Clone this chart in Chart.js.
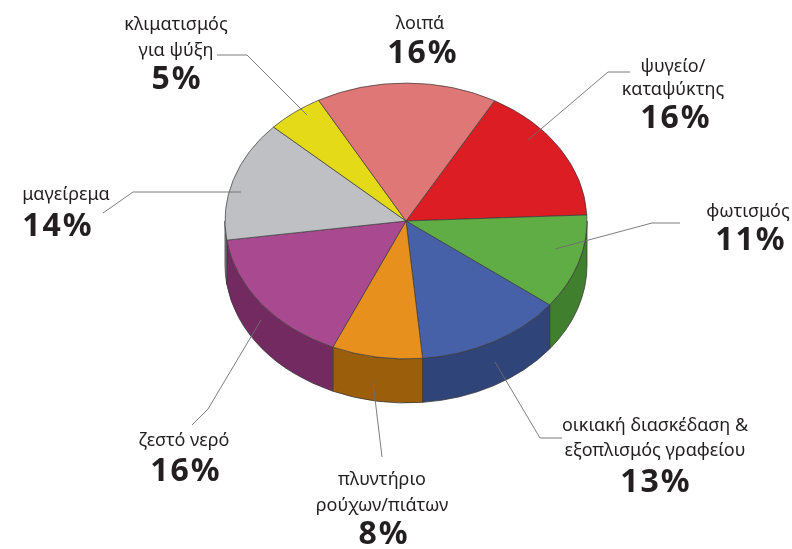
<!DOCTYPE html>
<html>
<head>
<meta charset="utf-8">
<script src="https://cdn.jsdelivr.net/npm/chart.js@4.4.1/dist/chart.umd.min.js"></script>
<style>
  html, body { margin: 0; padding: 0; background: #fff; }
  #wrap { width: 792px; height: 549px; position: relative; }
</style>
</head>
<body>
<div id="wrap"><canvas id="pie"></canvas></div>
<script>
// data, clockwise from the fridge slice
const categories = [
  ['ψυγείο/', 'καταψύκτης'],
  ['φωτισμός'],
  ['οικιακή διασκέδαση &', 'εξοπλισμός γραφείου'],
  ['πλυντήριο', 'ρούχων/πιάτων'],
  ['ζεστό νερό'],
  ['μαγείρεμα'],
  ['κλιματισμός', 'για ψύξη'],
  ['λοιπά']
];
const shares = [16, 11, 13, 8, 16, 14, 5, 16];

const topColors  = ['#dc1d23', '#60ad45', '#4661a7', '#e8901e', '#a94a90', '#bfc0c3', '#e4da17', '#e07777'];
const sideColors = ['#9a1216', '#3f7f2d', '#2f4479', '#9b5e0b', '#722a60', '#8b8c8f', '#a29a10', '#a35454'];

// label layout: text x, line centres, percentage x/y
const labelPos = [
  { x: 673, ys: [67, 90],   px: 675, py: 119 },
  { x: 748, ys: [212],      px: 750, py: 241 },
  { x: 655, ys: [426, 451], px: 655, py: 483 },
  { x: 382, ys: [480, 506], px: 383, py: 535 },
  { x: 184, ys: [441],      px: 185, py: 472 },
  { x: 66,  ys: [195],      px: 57,  py: 227 },
  { x: 176, ys: [25, 51],   px: 176, py: 80 },
  { x: 420, ys: [24],       px: 422, py: 54 }
];
const leaders = [
  [[630, 72], [608, 72], [528, 140]],
  [[680, 223], [652, 223], [555, 249]],
  [[562, 438], [540, 438], [495, 362]],
  [[382, 457], [373, 382]],
  [[192, 425], [208, 409], [261, 320]],
  [[103, 213], [133, 192], [241, 192]],
  [[217, 55], [247, 55], [307, 115]],
  []
];

const TILT = 0.762;   // vertical squash of the top face
const DEPTH = 44;     // thickness of the disc
const TEXT = '#231f20';

function sideRanges(s, e) {
  // parts of [s,e] that face the viewer (screen angles 0..PI)
  const out = [];
  for (const base of [-2 * Math.PI, 0, 2 * Math.PI]) {
    const a = Math.max(s, base), b = Math.min(e, base + Math.PI);
    if (b > a) out.push([a, b]);
  }
  return out;
}

const pie3d = {
  id: 'pie3d',
  beforeDatasetsDraw(chart) {
    const ctx = chart.ctx;
    const arcs = chart.getDatasetMeta(0).data;
    ctx.save();
    arcs.forEach((arc, i) => {
      const p = arc.getProps(['x', 'y', 'startAngle', 'endAngle', 'outerRadius']);
      const rx = p.outerRadius, ry = p.outerRadius * TILT;
      sideRanges(p.startAngle, p.endAngle).forEach(([a, b]) => {
        ctx.beginPath();
        ctx.ellipse(p.x, p.y, rx, ry, 0, a, b);
        ctx.lineTo(p.x + rx * Math.cos(b), p.y + ry * Math.sin(b) + DEPTH);
        ctx.ellipse(p.x, p.y + DEPTH, rx, ry, 0, b, a, true);
        ctx.closePath();
        ctx.fillStyle = sideColors[i];
        ctx.fill();
        ctx.lineWidth = 0.8;
        ctx.strokeStyle = '#3a3a3a';
        ctx.stroke();
      });
    });
    // squash the flat pie into an ellipse around its centre
    const c = arcs[0];
    ctx.translate(c.x, c.y);
    ctx.scale(1, TILT);
    ctx.translate(-c.x, -c.y);
  },
  afterDatasetsDraw(chart) {
    chart.ctx.restore();
  },
  afterDraw(chart) {
    const ctx = chart.ctx;
    ctx.save();
    ctx.strokeStyle = '#6d6e71';
    ctx.lineWidth = 0.9;
    leaders.forEach(pts => {
      if (!pts.length) return;
      ctx.beginPath();
      pts.forEach(([x, y], k) => k ? ctx.lineTo(x, y) : ctx.moveTo(x, y));
      ctx.stroke();
    });
    ctx.fillStyle = TEXT;
    ctx.textAlign = 'center';
    ctx.textBaseline = 'middle';
    categories.forEach((lines, i) => {
      const lp = labelPos[i];
      ctx.letterSpacing = '0px';
      ctx.font = '18px "Noto Sans", "Open Sans", sans-serif';
      lines.forEach((t, k) => ctx.fillText(t, lp.x, lp.ys[k]));
      ctx.letterSpacing = '2px';
      ctx.font = 'bold 32px "Noto Sans", "Open Sans", sans-serif';
      ctx.fillText(shares[i] + '%', lp.px + 1, lp.py);
    });
    ctx.restore();
  }
};

new Chart(document.getElementById('pie'), {
  type: 'pie',
  data: {
    labels: categories.map(l => l.join(' ')),
    datasets: [{
      data: shares,
      backgroundColor: topColors,
      borderColor: '#3a3a3a',
      borderWidth: 0.8,
      hoverOffset: 0,
      clip: false
    }]
  },
  options: {
    responsive: true,
    maintainAspectRatio: false,
    animation: false,
    events: [],
    rotation: 29.3,
    radius: 181,
    layout: { padding: { left: 225, right: 205, top: 40, bottom: 147 } },
    plugins: {
      legend: { display: false },
      tooltip: { enabled: false }
    }
  },
  plugins: [pie3d]
});
</script>
</body>
</html>
